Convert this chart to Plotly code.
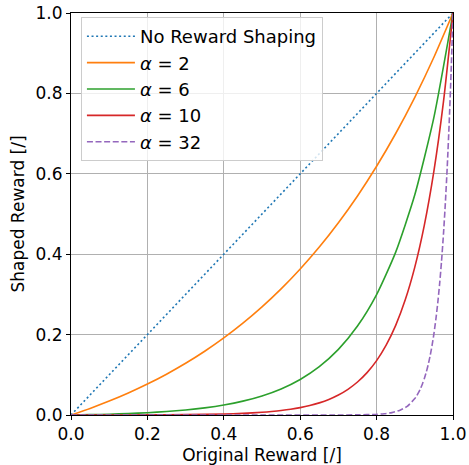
import plotly.graph_objects as go

# Values
x_linear = [0.0, 1.0]
y_linear = [0.0, 1.0]

x_a2 = [0.0, 0.05, 0.1, 0.15, 0.2, 0.25, 0.3, 0.35, 0.4, 0.45, 0.5, 0.55, 0.6, 0.65, 0.7, 0.75, 0.8, 0.85, 0.9, 0.95, 1.0]
y_a2 = [0.0, 0.01646, 0.03465, 0.05476, 0.07698, 0.10154, 0.12868, 0.15867, 0.19182, 0.22846, 0.26894,
        0.31369, 0.36314, 0.41779, 0.47820, 0.54495, 0.61872, 0.70026, 0.79036, 0.88995, 1.0]

x_a6 = [0.0, 0.05, 0.1, 0.15, 0.2, 0.25, 0.3, 0.35, 0.4, 0.45, 0.5, 0.55, 0.6, 0.65, 0.7, 0.75, 0.8, 0.85, 0.9, 0.95, 1.0]
y_a6 = [0.0, 0.000869, 0.002043, 0.003627, 0.005765, 0.008652, 0.012548, 0.017807, 0.024907, 0.034490, 0.047426,
        0.064887, 0.088458, 0.120276, 0.163224, 0.221199, 0.299457, 0.405094, 0.547690, 0.740174, 1.0]

x_a10 = [0.0, 0.1, 0.2, 0.3, 0.4, 0.45, 0.5, 0.525, 0.55, 0.575, 0.6, 0.625, 0.65, 0.675, 0.7, 0.725, 0.75, 0.775,
         0.8, 0.825, 0.85, 0.875, 0.9, 0.925, 0.95, 0.975, 1.0]
y_a10 = [0.0, 0.000078, 0.000290, 0.000867, 0.002433, 0.004035, 0.006693, 0.008607, 0.011064, 0.014220, 0.018271,
         0.023474, 0.030154, 0.038731, 0.049744, 0.063885, 0.082044, 0.105359, 0.135296, 0.173738, 0.223095,
         0.286473, 0.367852, 0.472345, 0.606512, 0.778790, 1.0]

x_a32 = [0.0, 0.5, 0.7, 0.75, 0.8, 0.82, 0.84, 0.86, 0.88, 0.9, 0.905, 0.91, 0.915, 0.92, 0.925, 0.93, 0.935,
         0.94, 0.945, 0.95, 0.955, 0.96, 0.965, 0.97, 0.975, 0.98, 0.985, 0.99, 0.995, 1.0]
y_a32 = [0.0, 0.0000001, 0.0000677, 0.000335, 0.001662, 0.003151, 0.005976, 0.011333, 0.021494, 0.040762, 0.047835,
         0.056135, 0.065924, 0.077305, 0.090718, 0.106459, 0.124930, 0.146607, 0.172045, 0.201897, 0.236928,
         0.278037, 0.326280, 0.382893, 0.449329, 0.527292, 0.618783, 0.726149, 0.852144, 1.0]

tick_vals = [0.0, 0.2, 0.4, 0.6, 0.8, 1.0]
tick_text = ["0.0", "0.2", "0.4", "0.6", "0.8", "1.0"]

series = [
    (x_linear, y_linear, "No Reward Shaping", "#1f77b4", "2px,2.6px"),
    (x_a2, y_a2, "<i>α</i> = 2", "#ff7f0e", "solid"),
    (x_a6, y_a6, "<i>α</i> = 6", "#2ca02c", "solid"),
    (x_a10, y_a10, "<i>α</i> = 10", "#d62728", "solid"),
    (x_a32, y_a32, "<i>α</i> = 32", "#9467bd", "6px,2.6px"),
]

fig = go.Figure()
for i, (xs, ys, name, color, dash) in enumerate(series):
    fig.add_trace(go.Scatter(
        x=xs, y=ys, mode="lines", name=name, legendgroup=f"g{i}",
        line=dict(color=color, width=1.6, dash=dash, shape="spline", smoothing=0.6),
    ))

axis_common = dict(
    range=[0, 1], tickvals=tick_vals, ticktext=tick_text,
    showgrid=True, gridcolor="#b0b0b0", gridwidth=0.8,
    showline=True, linecolor="black", linewidth=1, mirror=True,
    ticks="outside", ticklen=4, tickcolor="black", tickwidth=1,
    zeroline=False, tickfont=dict(size=17, color="black"),
    automargin=False,
)

fig.update_layout(
    width=469, height=465,
    margin=dict(l=71, r=16, t=13, b=50),
    paper_bgcolor="white", plot_bgcolor="white",
    font=dict(family="DejaVu Sans", size=17, color="black"),
    xaxis=dict(title=dict(text="Original Reward [/]", font=dict(size=17)), **axis_common),
    yaxis=dict(title=dict(text="Shaped Reward [/]", font=dict(size=17), standoff=6), **axis_common),
    legend=dict(
        x=0.026, y=0.99, xanchor="left", yanchor="top",
        bgcolor="rgba(255,255,255,0.8)", bordercolor="#cccccc", borderwidth=1,
        font=dict(size=18), tracegroupgap=0, itemwidth=48,
    ),
    showlegend=True,
)

fig.write_html("out.html", config={"displayModeBar": False},
               post_script="document.body.style.margin='0';document.body.style.padding='0';")
